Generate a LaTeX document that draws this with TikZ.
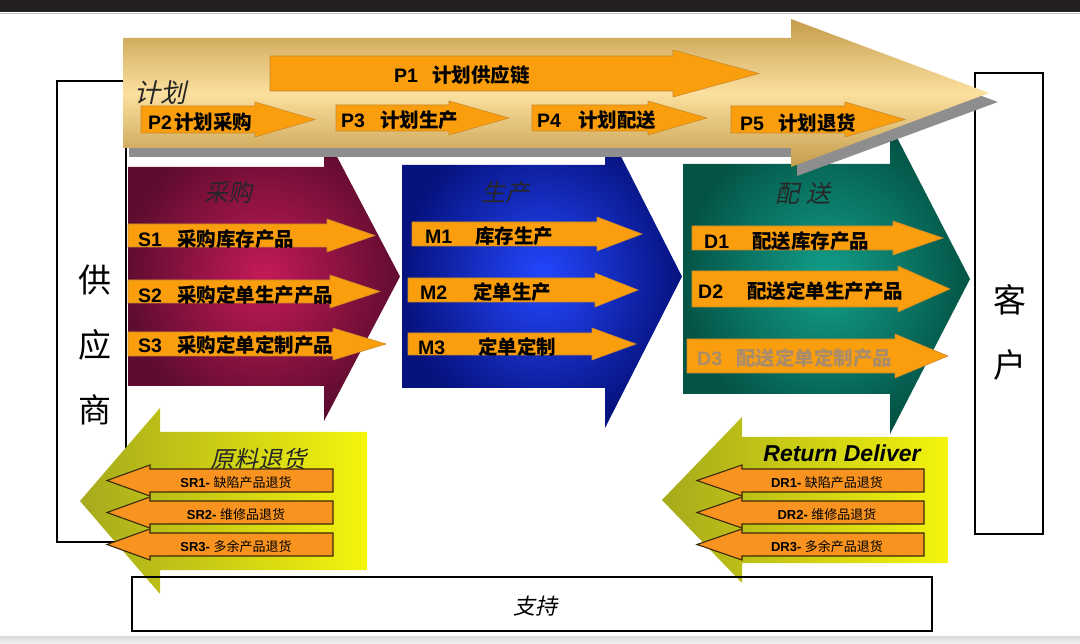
\documentclass[tikz,border=0pt]{standalone}
\usepackage{fontspec}
\setmainfont{Liberation Sans}
\newfontfamily\cjk{Noto Sans CJK SC}
\newfontfamily\cjkit[FakeSlant=0.22]{Noto Sans CJK SC}
\usepackage{tikz}
\usetikzlibrary{positioning}

\definecolor{barblack}{HTML}{231F20}
\definecolor{goldE}{HTML}{C49C4C}
\definecolor{goldC}{HTML}{FCE09E}
\definecolor{shadowgray}{HTML}{8E8E8E}
\definecolor{orangeF}{HTML}{FA9E0E}
\definecolor{orangeD}{HTML}{C98A2A}
\definecolor{retF}{HTML}{F7931E}
\definecolor{retD}{HTML}{3A2A08}
\definecolor{purpleC}{HTML}{C41A58}
\definecolor{purpleE}{HTML}{600C30}
\definecolor{blueC}{HTML}{2447FF}
\definecolor{blueE}{HTML}{06127E}
\definecolor{tealC}{HTML}{12A08A}
\definecolor{tealE}{HTML}{045446}
\definecolor{yellowC}{HTML}{F4F40C}
\definecolor{yellowM}{HTML}{E6E612}
\definecolor{yellowE}{HTML}{A6AA1C}
\definecolor{fadedtxt}{HTML}{A88C6C}

% block arrow: style, body end, top, bottom, head base, tip, head overhang
\newcommand{\blockarrow}[7]{%
  \path[#1] (#2,#3) -- (#5,#3) -- (#5,#3-#7) -- (#6,{(#3+#4)/2}) -- (#5,#4+#7) -- (#5,#4) -- (#2,#4) -- cycle;}
% code in bold latin, then the chinese part #2 pt further on
\newcommand{\plab}[3]{\makebox[#2pt][l]{\bfseries #1}{\cjk\bfseries #3}}

\begin{document}
\begin{tikzpicture}[x=1pt,y=-1pt,
	orarr/.style={fill=orangeF,draw=orangeD,line width=0.6pt},
	retarr/.style={fill=retF,draw=retD,line width=1.1pt},
	box/.style={draw=black,line width=1.1pt},
	lbl/.style={inner sep=0pt,anchor=west,font=\fontsize{19.5}{22}\selectfont},
	rlab/.style={inner sep=0pt,font=\fontsize{13}{15}\selectfont},
	stage/.style={inner sep=0pt,text=black!85,font=\cjkit\fontsize{24}{26}\selectfont},
	side/.style={inner sep=0pt,font=\cjk\fontsize{33}{36}\selectfont}]
		\useasboundingbox (0,0) rectangle (1080,644);
		
		% slide frame
		\fill[barblack] (0,0) rectangle (1080,12);
		\draw[gray!50] (0,13) -- (1080,13);
		\shade[top color=gray!30,bottom color=gray!8] (0,636) rectangle (1080,644);
		
		% supplier and customer
		\draw[box,fill=white] (57,81) rectangle (126,542);
		\draw[box,fill=white] (975,73) rectangle (1043,534);
		\node[side] (sup1) at (95,280) {供};
		\node[side] (sup2) at (95,345) {应};
		\node[side] (sup3) at (95,410) {商};
		\node[side] (cus1) at (1010,300) {客};
		\node[side] (cus2) at (1010,365) {户};
		
		% source, make, deliver
		\blockarrow{inner color=purpleC,outer color=purpleE}{128}{167}{386}{324}{400}{35}
		\blockarrow{inner color=blueC,outer color=blueE}{402}{165}{388}{605}{682}{40}
		\blockarrow{inner color=tealC,outer color=tealE}{683}{164}{394}{890}{970}{40}
		
		% plan
		\blockarrow{fill=shadowgray}{129}{47}{157}{797}{998}{19}
		\blockarrow{top color=goldE,bottom color=goldE,middle color=goldC}{123}{38}{148}{791}{989}{19}
		\node[stage,font=\cjkit\fontsize{26}{28}\selectfont] (plan) at (160,93) {计划};
		
		\blockarrow{orarr}{270}{56}{91}{673}{759}{6}
		\blockarrow{orarr}{141}{106}{133}{255}{315}{4}
		\blockarrow{orarr}{336}{105}{131}{449}{509}{4}
		\blockarrow{orarr}{532}{105}{131}{648}{707}{4}
		\blockarrow{orarr}{731}{106}{133}{845}{905}{4}
		\node[lbl] (p1) at (394,75) {\plab{P1}{38}{计划供应链}};
		\node[lbl] (p2) at (148,122) {\plab{P2}{26}{计划采购}};
		\node[lbl] (p3) at (341,120) {\plab{P3}{39}{计划生产}};
		\node[lbl] (p4) at (537,120) {\plab{P4}{41}{计划配送}};
		\node[lbl] (p5) at (740,123) {\plab{P5}{38}{计划退货}};
		
		% process arrows
		\blockarrow{orarr}{128}{224}{247}{327}{375}{5}
		\blockarrow{orarr}{128}{280}{303}{330}{380}{5}
		\blockarrow{orarr}{128}{332}{356}{333}{386}{4}
		\blockarrow{orarr}{412}{222}{246}{597}{642}{5}
		\blockarrow{orarr}{408}{278}{302}{595}{638}{5}
		\blockarrow{orarr}{408}{333}{355}{592}{636}{5}
		\blockarrow{orarr}{692}{226}{250}{893}{943}{5}
		\blockarrow{orarr}{692}{271}{307}{898}{950}{5}
		\blockarrow{orarr}{687}{339}{373}{895}{948}{5}
		
		\node[stage] (src) at (228,192) {采购};
		\node[stage] (mak) at (505,192) {生产};
		\node[stage] (del) at (803,193) {配\hspace{8pt}送};
		\node[lbl] (s1) at (138,239) {\plab{S1}{39}{采购库存产品}};
		\node[lbl] (s2) at (138,295) {\plab{S2}{39}{采购定单生产产品}};
		\node[lbl] (s3) at (138,345) {\plab{S3}{39}{采购定单定制产品}};
		\node[lbl] (m1) at (425,236) {\plab{M1}{50}{库存生产}};
		\node[lbl] (m2) at (420,292) {\plab{M2}{53}{定单生产}};
		\node[lbl] (m3) at (418,347) {\plab{M3}{60}{定单定制}};
		\node[lbl] (d1) at (704,241) {\plab{D1}{48}{配送库存产品}};
		\node[lbl] (d2) at (698,291) {\plab{D2}{49}{配送定单生产产品}};
		\node[lbl,text=fadedtxt] (d3) at (697,358) {\plab{D3}{39}{配送定单定制产品}};
		
		% returns
		\blockarrow{left color=yellowE,middle color=yellowM,right color=yellowC}{367}{432}{570}{160}{80}{24}
		\blockarrow{left color=yellowE,middle color=yellowM,right color=yellowC}{948}{437}{563}{742}{662}{20}
		\node[stage] (srt) at (258,459) {原料退货};
		\node[inner sep=0pt,font=\bfseries\itshape\fontsize{23}{26}\selectfont] (drt) at (842,453) {Return Deliver};
		
		\blockarrow{retarr}{333}{469}{492}{150}{107}{4}
		\blockarrow{retarr}{333}{501}{524}{150}{107}{4}
		\blockarrow{retarr}{333}{533}{556}{150}{107}{4}
		\blockarrow{retarr}{924}{469}{492}{742}{697}{4}
		\blockarrow{retarr}{924}{501}{524}{742}{697}{4}
		\blockarrow{retarr}{924}{533}{556}{742}{697}{4}
		\node[rlab] (sr1) at (236,483) {{\bfseries SR1-} {\cjk 缺陷产品退货}};
		\node[rlab] (sr2) at (236,515) {{\bfseries SR2-} {\cjk 维修品退货}};
		\node[rlab] (sr3) at (236,547) {{\bfseries SR3-} {\cjk 多余产品退货}};
		\node[rlab] (dr1) at (827,483) {{\bfseries DR1-} {\cjk 缺陷产品退货}};
		\node[rlab] (dr2) at (827,515) {{\bfseries DR2-} {\cjk 维修品退货}};
		\node[rlab] (dr3) at (827,547) {{\bfseries DR3-} {\cjk 多余产品退货}};
		
		% enable
		\draw[box] (132,577) rectangle (932,631);
		\node[stage,text=black,font=\cjkit\fontsize{22}{24}\selectfont] (sup) at (535,606) {支持};
	\end{tikzpicture}
\end{document}
